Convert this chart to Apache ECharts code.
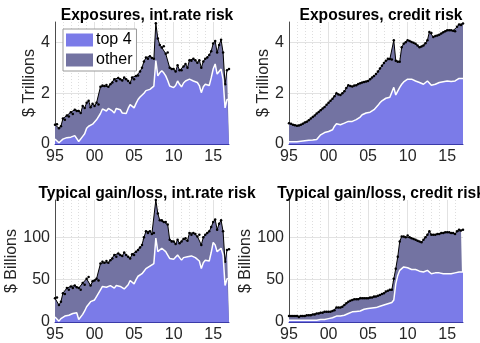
<!DOCTYPE html>
<html><head><meta charset="utf-8">
<script src="https://cdn.jsdelivr.net/npm/echarts@6/dist/echarts.min.js"></script>
<style>html,body{margin:0;padding:0;background:#fff}#c{width:480px;height:343px}</style>
</head><body><div id="c"></div>
<script>
// Quarterly data, 1995Q1 .. 2017Q1
const startYear = 1995;
const xTickLabels = ['95','00','05','10','15'];

const irExpTotal = [
0.76,0.78,0.62,0.70, 1.00,0.95,1.12,1.08, 1.25,1.18,1.35,1.30, 1.30,1.22,1.50,1.42,
1.62,1.70,1.45,1.58, 1.50,1.62,1.55,2.25, 2.30,2.28,2.32,2.25, 2.35,2.42,2.55,2.48,
2.60,2.55,2.50,2.62, 2.55,2.48,2.40,2.62, 2.55,2.68,2.70,2.85, 3.00,3.25,3.40,3.35,
3.45,3.38,3.35,4.75, 4.15,3.90,3.80,3.85, 3.55,3.60,3.00,2.95, 2.95,2.85,3.10,2.90,
2.90,3.05,3.15,3.00, 3.30,3.28,3.35,3.30, 3.20,3.30,3.00,3.25, 3.35,3.40,3.50,3.65,
3.95,4.05,3.60,3.90, 4.10,3.60,2.35,2.90, 2.95];
const irExpTop4 = [
0.19,0.20,0.05,0.12, 0.19,0.22,0.25,0.24, 0.27,0.30,0.33,0.36, 0.10,0.12,0.30,0.40,
0.62,0.70,0.76,0.78, 0.82,0.95,1.00,1.20, 1.38,1.35,1.30,1.40, 1.42,1.30,1.22,1.40,
1.46,1.35,1.22,1.25, 1.20,1.40,1.55,1.50, 1.42,1.60,1.75,1.85, 1.90,2.00,2.10,2.12,
2.15,2.20,2.28,3.28, 2.68,2.80,2.88,2.80, 2.68,2.50,2.28,2.25, 2.22,2.30,2.48,2.35,
2.25,2.40,2.48,2.45, 2.55,2.50,2.48,2.45, 2.42,2.30,2.02,2.25, 2.35,2.30,2.30,2.60,
2.95,3.15,2.75,2.85, 2.95,2.55,1.42,1.75, 1.75];

const crExpTotal = [
0.82,0.80,0.76,0.74, 0.72,0.73,0.76,0.80, 0.85,0.88,0.93,1.00, 1.06,1.12,1.20,1.26,
1.33,1.40,1.46,1.54, 1.62,1.70,1.78,1.88, 2.00,1.95,1.93,2.00, 2.08,2.20,2.31,2.28,
2.26,2.30,2.31,2.36, 2.39,2.42,2.44,2.46, 2.48,2.55,2.62,2.68, 2.75,2.85,2.97,3.08,
3.19,3.28,3.35,3.34, 3.32,4.08,3.28,3.24, 3.24,3.81,3.94,4.00, 4.08,4.05,4.01,3.98,
3.94,3.88,3.81,3.84, 3.88,3.96,4.08,4.41, 4.37,4.21,4.25,4.27, 4.30,4.35,4.40,4.44,
4.48,4.48,4.48,4.46, 4.44,4.61,4.70,4.68, 4.74];
const crExpTop4 = [
0.09,0.09,0.09,0.09, 0.09,0.10,0.11,0.12, 0.13,0.14,0.15,0.16, 0.16,0.17,0.18,0.19,
0.36,0.40,0.45,0.47, 0.49,0.52,0.56,0.70, 0.80,0.78,0.76,0.78, 0.82,0.86,0.89,0.89,
0.89,0.92,0.96,1.00, 1.06,1.15,1.22,1.22, 1.22,1.25,1.29,1.35, 1.42,1.52,1.62,1.70,
1.75,1.80,1.82,1.84, 1.85,2.23,1.93,1.89, 2.23,2.35,2.44,2.50, 2.55,2.57,2.55,2.52,
2.48,2.45,2.42,2.38, 2.35,2.42,2.48,2.45, 2.31,2.33,2.35,2.38, 2.42,2.44,2.45,2.46,
2.48,2.47,2.46,2.47, 2.48,2.52,2.58,2.57, 2.58];

const irGainTotal = [
28,29,20,24, 34,33,40,38, 42,40,43,41, 40,38,46,44,
51,53,43,48, 49,51,49,69, 71,70,72,70, 73,75,79,77,
81,79,78,82, 79,77,75,80, 79,83,85,88, 91,100,107,105,
107,104,105,144, 128,120,120,118, 118,115,97,95, 95,92,97,93,
95,98,99,96, 105,103,105,104, 101,103,91,100, 103,105,107,112,
118,121,109,116, 120,107,71,85, 86];
const irGainTop4 = [
6,6,1,4, 6,7,8,8, 9,10,10,11, 3,4,9,13,
18,21,24,25, 26,30,32,38, 42,42,41,43, 43,41,40,43,
45,42,40,39, 38,44,49,47, 45,50,54,56, 57,60,63,64,
66,67,69,99, 83,85,87,85, 83,79,75,74, 74,76,79,76,
73,76,78,77, 79,78,77,76, 75,72,63,70, 73,72,72,82,
94,91,83,85, 87,79,43,51, 51];

const crGainTotal = [
7,7,7,7, 7,6,7,7, 7,8,8,8, 9,9,10,10,
11,11,12,12, 12,12,13,14, 17,17,17,18, 20,22,24,25,
26,27,27,27, 28,28,28,28, 28,29,29,30, 30,31,32,33,
34,36,37,38, 38,51,63,77, 95,101,101,100, 102,100,99,98,
97,96,95,94, 97,100,103,107, 103,103,103,104, 104,105,105,106,
106,106,105,105, 104,107,109,108, 109];
const crGainTop4 = [
2,2,2,2, 2,2,2,2, 2,2,2,2, 2,2,2,2.5,
3,3,3,3.5, 4,4,5,6, 7,7,7,7.5, 8,9,10,11,
12,12,12.5,13, 13,14,15,15.5, 16,16,16.5,17, 17,18,18.5,19,
20,21,21.5,22, 23,26,45,55, 61,63,65,64, 64,63,62,62,
62,61,60,60, 59,60,61,59, 57,57,58,58, 58,58,57,57,
57,57,57,57, 58,58,59,59, 59];

const titles = ['Exposures, int.rate risk','Exposures, credit risk','Typical gain/loss, int.rate risk','Typical gain/loss, credit risk'];
const yNames = ['$ Trillions','$ Trillions','$ Billions','$ Billions'];

const COL_TOP = '#7b7be8';
const COL_OTHER = '#7373a2';
const FONT = '"Liberation Sans", Arial, Helvetica, sans-serif';

function pairs(arr){ return arr.map((v,i)=>[startYear + i*0.25, v]); }

const panels = [
  {tot: irExpTotal, top: irExpTop4, left:55, top0:22, max:4.8, interval:2},
  {tot: crExpTotal, top: crExpTop4, left:289, top0:22, max:4.8, interval:2},
  {tot: irGainTotal, top: irGainTop4, left:55, top0:200, max:144, interval:50},
  {tot: crGainTotal, top: crGainTop4, left:289, top0:200, max:144, interval:50}
];

const grid=[], xAxis=[], yAxis=[], series=[], title=[];
panels.forEach((p,i)=>{
  grid.push({left:p.left, top:p.top0, width:174, height:122, containLabel:false});
  title.push({text:titles[i], left:p.left+87, top:p.top0-19, textAlign:'center',
    textStyle:{fontFamily:FONT, fontSize:15.6, fontWeight:'bold', color:'#000'}});
  xAxis.push({type:'value', gridIndex:i, min:1995, max:2017, interval:5,
    axisLine:{show:true, lineStyle:{color:'#3a3aa8', width:1}},
    axisTick:{show:false},
    axisLabel:{fontFamily:FONT, fontSize:16, color:'#262626', margin:5,
      formatter:v=>{ if ((v-1995)%5!==0) return ''; return xTickLabels[(v-1995)/5] || ''; }},
    splitLine:{show:true, showMinLine:false, showMaxLine:false, lineStyle:{color:'#e2e2e2', width:1}},
    minorTick:{show:false, splitNumber:5},
    minorSplitLine:{show:true, lineStyle:{color:'#dedede', type:[1,2], width:1}}
  });
  yAxis.push({type:'value', gridIndex:i, min:0, max:p.max, interval:p.interval,
    name:yNames[i], nameLocation:'middle', nameGap:i<2?17:30,
    nameTextStyle:{fontFamily:FONT, fontSize:16, color:'#262626'},
    axisLine:{show:true, lineStyle:{color:'#4d4d4d', width:1}},
    axisTick:{show:false},
    axisLabel:{fontFamily:FONT, fontSize:16, color:'#262626', margin:5,
      formatter:v=> (v % p.interval === 0) ? String(v) : ''},
    splitLine:{show:true, showMinLine:false, showMaxLine:false, lineStyle:{color:'#e2e2e2', width:1}}
  });
  series.push({type:'line', name:'other', xAxisIndex:i, yAxisIndex:i, data:pairs(p.tot),
    symbol:'circle', symbolSize:2.5, showSymbol:true, itemStyle:{color:'#000'},
    lineStyle:{color:'#000', width:1}, areaStyle:{color:COL_OTHER, opacity:1}, z:2, silent:true});
  series.push({type:'line', name:'top 4', xAxisIndex:i, yAxisIndex:i, data:pairs(p.top),
    symbol:'none', itemStyle:{color:COL_TOP},
    lineStyle:{color:'#fff', width:1.5}, areaStyle:{color:COL_TOP, opacity:1}, z:3, silent:true});
});

const chart = echarts.init(document.getElementById('c'), null, {renderer:'canvas'});
chart.setOption({
  animation:false,
  backgroundColor:'#fff',
  title, grid, xAxis, yAxis, series,
  legend:{show:true, orient:'vertical', left:63, top:29, selectedMode:false,
    icon:'rect', itemWidth:27, itemHeight:13, itemGap:4,
    padding:[3,4,3,3], borderColor:'#9a9a9a', borderWidth:1, backgroundColor:'#fff',
    textStyle:{fontFamily:FONT, fontSize:16, color:'#000', padding:[0,0,0,-2]},
    data:[{name:'top 4', itemStyle:{color:COL_TOP, borderWidth:0}},
          {name:'other', itemStyle:{color:COL_OTHER, borderWidth:0}}]}
});
</script></body></html>
